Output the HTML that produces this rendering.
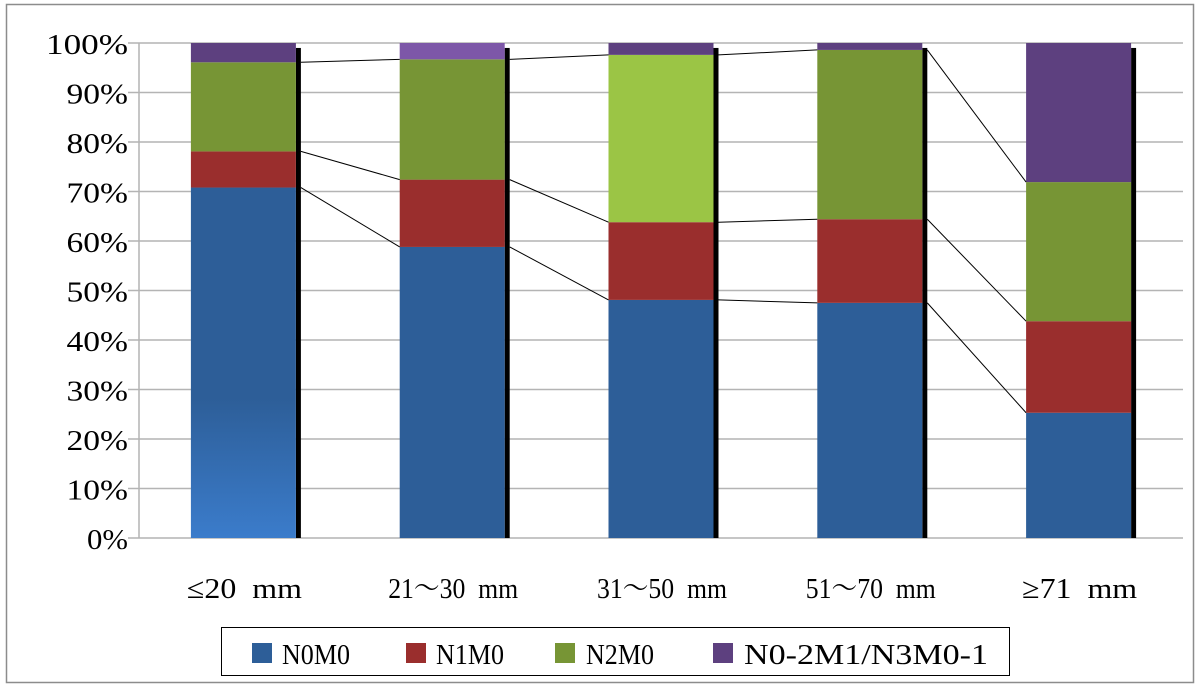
<!DOCTYPE html>
<html><head><meta charset="utf-8"><style>
html,body{margin:0;padding:0;background:#fff;}
svg text{font-family:"Liberation Serif","Noto Serif CJK SC",serif;fill:#000;}
</style></head><body>
<svg id="chart" width="1200" height="687" xmlns="http://www.w3.org/2000/svg">
<defs>
<linearGradient id="blueGrad" x1="0" y1="0" x2="0" y2="1">
<stop offset="0" stop-color="#2d5e98"/><stop offset="0.6" stop-color="#2d5e98"/><stop offset="1" stop-color="#3b7ccb"/>
</linearGradient>
</defs>
<rect x="6.5" y="4.5" width="1187" height="678" fill="#fff" stroke="#8c8c8c" stroke-width="1.5"/>
<g id="grid"></g>
<g id="bars"></g>
<g id="lines"></g>
<g id="labels"></g>
<g>
<rect x="221.5" y="627.5" width="788" height="48" fill="#fff" stroke="#000" stroke-width="1"/>
<rect x="252" y="643" width="20" height="20" fill="#2d5e98"/>
<text x="282" y="664" font-size="28" textLength="68" lengthAdjust="spacingAndGlyphs">N0M0</text>
<rect x="406" y="643" width="20" height="20" fill="#9a2e2d"/>
<text x="436" y="664" font-size="28" textLength="68" lengthAdjust="spacingAndGlyphs">N1M0</text>
<rect x="555" y="643" width="20" height="20" fill="#779535"/>
<text x="586" y="664" font-size="28" textLength="68" lengthAdjust="spacingAndGlyphs">N2M0</text>
<rect x="713" y="643" width="20" height="20" fill="#5d407f"/>
<text x="744" y="664" font-size="28" textLength="244" lengthAdjust="spacingAndGlyphs">N0-2M1/N3M0-1</text>
</g>
</svg>
<script>
const categories = ["≤20  mm","21～30  mm","31～50  mm","51～70  mm","≥71  mm"];
const n0m0 = [70.8, 58.8, 48.1, 47.5, 25.3];
const n1m0 = [7.3, 13.6, 15.7, 16.9, 18.5];
const n2m0 = [18.0, 24.3, 33.8, 34.2, 28.1];
const m1 = [3.9, 3.3, 2.4, 1.4, 28.1];
const yTicks = ["0%","10%","20%","30%","40%","50%","60%","70%","80%","90%","100%"];

const NS="http://www.w3.org/2000/svg";
const plotL=139, plotR=1183, plotT=43, plotB=538;
const bw=105;
function yS(v){return plotB-(v/100)*(plotB-plotT);}
function xC(i){return plotL+(i+0.5)*(plotR-plotL)/categories.length;}
function mk(tag,attrs,parent){const e=document.createElementNS(NS,tag);for(const k in attrs)e.setAttribute(k,attrs[k]);parent.appendChild(e);return e;}
const grid=document.getElementById('grid'),bars=document.getElementById('bars'),lines=document.getElementById('lines'),labels=document.getElementById('labels');

yTicks.forEach((t,i)=>{
  const v=i*10,y=yS(v);
  const g=mk('line',{x1:128,x2:plotR,y1:y,y2:y,stroke:'#b4b4b4','stroke-width':1.5},grid);
  
  
  const tx=mk('text',{x:128,y:y+11,'font-size':29,'text-anchor':'end',textLength:t.length*20.5,lengthAdjust:'spacingAndGlyphs'},labels);
  tx.textContent=t;
  
  
});
const ax=mk('line',{x1:plotL,x2:plotL,y1:plotT,y2:plotB,stroke:'#b4b4b4','stroke-width':1.5},grid);



const series=[n0m0,n1m0,n2m0,m1];
const names=['n0m0','n1m0','n2m0','n0-2m1'];
const colors=[['url(#blueGrad)','#2d5e98','#2d5e98','#2d5e98','#2d5e98'],
 ['#9a2e2d','#9a2e2d','#9a2e2d','#9a2e2d','#9a2e2d'],
 ['#779535','#779535','#9bc545','#779535','#779535'],
 ['#5d407f','#7d57a8','#5d407f','#5d407f','#5d407f']];
const tops=[];
categories.forEach((c,i)=>{
  const x=xC(i)-bw/2;
  const sh=mk('rect',{x:x+bw,y:yS(99),width:5,height:plotB-yS(99),fill:'#000'},bars);
  
  
  let cum=0;tops[i]=[];
  series.forEach((s,k)=>{
    const y0=yS(cum),y1=yS(cum+s[i]);
    const r=mk('rect',{x:x,y:y1,width:bw,height:y0-y1,fill:colors[k][i]},bars);
    
    
    cum+=s[i];tops[i].push(cum);
  });
  const t=mk('text',{x:xC(i)+1,y:598,'font-size':29,'text-anchor':'middle',textLength:(c.length>8?130:115),lengthAdjust:'spacingAndGlyphs','xml:space':'preserve'},labels);
  t.setAttribute('style','white-space:pre');
  t.textContent=c;
  
  
});
for(let i=0;i<categories.length-1;i++){
  for(let k=0;k<3;k++){
    const l=mk('line',{x1:xC(i)+bw/2+5,y1:yS(tops[i][k]),x2:xC(i+1)-bw/2,y2:yS(tops[i+1][k]),stroke:'#000','stroke-width':1},lines);
    
    
  }
}
</script>
</body></html>
